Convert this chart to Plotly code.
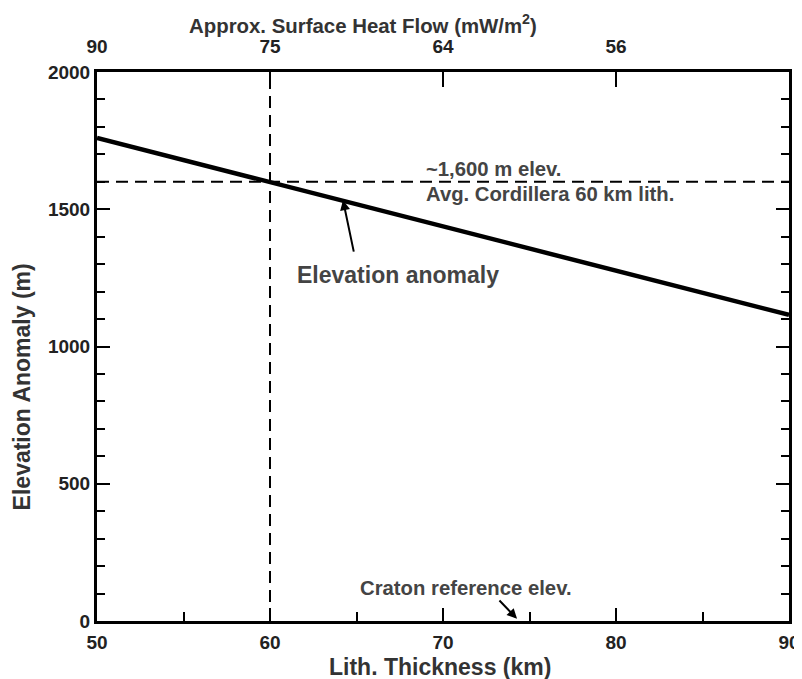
import plotly.graph_objects as go

# ---- data ----
lith_thickness = [50, 90]          # km
elev_anomaly = [1760, 1115]        # m
ref_elev = 1600                    # ~1,600 m elev. (avg. Cordillera)
ref_thick = 60                     # 60 km lith.
x_range = [50, 90]
y_range = [0, 2000]
heat_tick_pos = [50, 60, 70, 80]
heat_tick_text = ["90", "75", "64", "56"]

FONT = "Liberation Sans, Arial, sans-serif"
TXT = "#444444"

fig = go.Figure()

# reference lines
fig.add_trace(go.Scatter(x=x_range, y=[ref_elev, ref_elev], mode="lines",
                         line=dict(color="black", width=2, dash="12px,7px"),
                         showlegend=False, hoverinfo="skip"))
fig.add_trace(go.Scatter(x=[ref_thick, ref_thick], y=y_range, mode="lines",
                         line=dict(color="black", width=2, dash="12px,7px"),
                         showlegend=False, hoverinfo="skip"))
# elevation anomaly
fig.add_trace(go.Scatter(x=lith_thickness, y=elev_anomaly, mode="lines",
                         line=dict(color="black", width=4.5),
                         showlegend=False))
# dummy trace for top axis
fig.add_trace(go.Scatter(x=x_range, y=y_range, xaxis="x2", mode="lines",
                         line=dict(width=0), opacity=0, showlegend=False,
                         hoverinfo="skip"))

tickfont = dict(family=FONT, size=19, color="#222222", weight="bold")

# page body has an 8px default margin, so the figure is sized to fit
fig.update_layout(
    width=794, height=671,
    margin=dict(l=89, r=13, t=64, b=58, autoexpand=False),
    paper_bgcolor="white", plot_bgcolor="white",
    xaxis=dict(range=x_range, showgrid=False, zeroline=False, automargin=False,
               showline=True, linecolor="black", linewidth=3, mirror=True,
               ticks="inside", ticklen=13, tickwidth=2, tickcolor="black",
               dtick=10, tick0=50, tickfont=tickfont, ticklabelstandoff=2,
               minor=dict(ticks="inside", ticklen=9, tickwidth=2,
                          tickcolor="black", dtick=5, showgrid=False)),
    xaxis2=dict(range=x_range, overlaying="x", side="top", showgrid=False,
                zeroline=False, showline=False, automargin=False,
                ticks="inside", ticklen=15, tickwidth=2, tickcolor="black",
                tickvals=heat_tick_pos, ticktext=heat_tick_text,
                tickfont=tickfont, ticklabelstandoff=14),
    yaxis=dict(range=y_range, showgrid=False, zeroline=False, automargin=False,
               showline=True, linecolor="black", linewidth=3, mirror="ticks",
               ticks="inside", ticklen=13, tickwidth=2, tickcolor="black",
               dtick=500, tick0=0, tickfont=tickfont,
               minor=dict(ticks="inside", ticklen=8, tickwidth=2,
                          tickcolor="black", dtick=100, showgrid=False)),
)

ann = []
# axis titles
ann.append(dict(text="Lith. Thickness (km)", xref="paper", yref="paper",
                x=0.496, y=-0.084, showarrow=False, yanchor="middle",
                font=dict(family=FONT, size=23, color="#333333", weight="bold")))
ann.append(dict(text="Elevation Anomaly (m)", xref="paper", yref="paper",
                x=-0.108, y=0.426, showarrow=False, textangle=-90,
                xanchor="center", yanchor="middle",
                font=dict(family=FONT, size=23, color="#333333", weight="bold")))
ann.append(dict(text="Approx. Surface Heat Flow (mW/m<sup>2</sup>)", xref="paper",
                yref="paper", x=0.384, y=1.088, showarrow=False,
                xanchor="center", yanchor="middle",
                font=dict(family=FONT, size=20.4, color="#333333", weight="bold")))
# labels
ann.append(dict(text="~1,600 m elev.", x=68.9, y=1648, xanchor="left",
                yanchor="middle", showarrow=False,
                font=dict(family=FONT, size=20.3, color=TXT, weight="bold")))
ann.append(dict(text="Avg. Cordillera 60 km lith.", x=68.9, y=1557,
                xanchor="left", yanchor="middle", showarrow=False,
                font=dict(family=FONT, size=20.3, color=TXT, weight="bold")))
ann.append(dict(text="Elevation anomaly", x=67.4, y=1260, xanchor="center",
                yanchor="middle", showarrow=False,
                font=dict(family=FONT, size=23, color=TXT, weight="bold")))
ann.append(dict(text="Craton reference elev.", x=71.35, y=120, xanchor="center",
                yanchor="middle", showarrow=False,
                font=dict(family=FONT, size=20.3, color=TXT, weight="bold")))
# arrows
ann.append(dict(text="", x=64.22, y=1533, ax=64.86, ay=1340, axref="x", ayref="y",
                showarrow=True, arrowhead=2, arrowsize=1, arrowwidth=2,
                arrowcolor="black"))
ann.append(dict(text="", x=74.28, y=8, ax=73.18, ay=80, axref="x", ayref="y",
                showarrow=True, arrowhead=2, arrowsize=1, arrowwidth=2,
                arrowcolor="black"))
fig.update_layout(annotations=ann)

fig.write_html("out.html")
